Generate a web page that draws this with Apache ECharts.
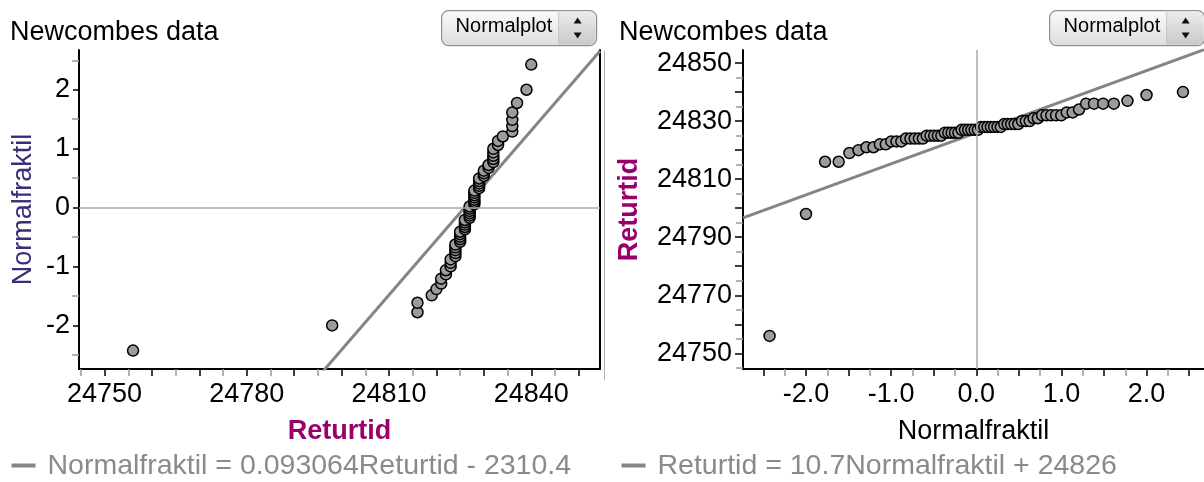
<!DOCTYPE html>
<html>
<head>
<meta charset="utf-8">
<title>Newcombes data – Normalplot</title>
<script src="https://cdn.jsdelivr.net/npm/echarts@6/dist/echarts.min.js"></script>
<style>
  html, body { margin: 0; padding: 0; background: #fff; }
  #chart { width: 1204px; height: 482px; }
</style>
</head>
<body>
<div id="chart"></div>
<script>
// Newcomb's 66 return-time measurements, sorted ascending
const returtid = [
  24756, 24798, 24816, 24816, 24819, 24820, 24821, 24821, 24822, 24822,
  24823, 24823, 24823, 24824, 24824, 24824, 24824, 24824, 24825, 24825,
  24825, 24825, 24825, 24826, 24826, 24826, 24826, 24826, 24827, 24827,
  24827, 24827, 24827, 24827, 24828, 24828, 24828, 24828, 24828, 24828,
  24828, 24829, 24829, 24829, 24829, 24829, 24830, 24830, 24830, 24831,
  24831, 24832, 24832, 24832, 24832, 24832, 24833, 24833, 24834, 24836,
  24836, 24836, 24836, 24837, 24839, 24840
];

// Normal quantiles paired with the sorted measurements
const normalfraktil = [
  -2.428, -2.000, -1.776, -1.616, -1.490, -1.383, -1.290, -1.207, -1.132, -1.063,
  -0.998, -0.937, -0.880, -0.825, -0.773, -0.723, -0.674, -0.627, -0.582, -0.537,
  -0.494, -0.451, -0.410, -0.369, -0.329, -0.289, -0.250, -0.210, -0.172, -0.133,
  -0.095, -0.057, -0.019,  0.019,  0.057,  0.095,  0.133,  0.172,  0.210,  0.250,
   0.289,  0.329,  0.369,  0.410,  0.451,  0.494,  0.537,  0.582,  0.627,  0.674,
   0.723,  0.773,  0.825,  0.880,  0.937,  0.998,  1.063,  1.132,  1.207,  1.290,
   1.383,  1.490,  1.616,  1.776,  2.000,  2.428
];

// Fitted lines shown under each plot
const leftFit = { slope: 0.093064, intercept: -2310.4 };   // Normalfraktil = a*Returtid + b
const rightFit = { slope: 10.7, intercept: 24826 };         // Returtid = a*Normalfraktil + b

// Window ranges
const retRange = [24744.6, 24854.5];
const zRange = [-2.74, 2.675];

// Tick and label positions
const retMajorTicks = [24750, 24760, 24770, 24780, 24790, 24800, 24810, 24820, 24830, 24840, 24850];
const retMinorTicks = [24745, 24755, 24765, 24775, 24785, 24795, 24805, 24815, 24825, 24835, 24845];
const retLabelsLeft = [24750, 24780, 24810, 24840];
const retLabelsRight = [24750, 24770, 24790, 24810, 24830, 24850];
const zIntTicks = [-2, -1, 0, 1, 2];
const zHalfTicks = [-2.5, -1.5, -0.5, 0.5, 1.5, 2.5];
const zLabelsLeft = [-2, -1, 0, 1, 2];
const zMajorTicksRight = [-2.5, -2, -1.5, -1, -0.5, 0, 0.5, 1, 1.5, 2, 2.5];
const zMinorTicksRight = [-2.25, -1.75, -1.25, -0.75, -0.25, 0.25, 0.75, 1.25, 1.75, 2.25];
const zLabelsRight = [-2, -1, 0, 1, 2];

const FONT = '"Liberation Sans", Arial, Helvetica, sans-serif';
const MAGENTA = '#99006b';
const NAVY = '#3b2e78';
const TICK_GRAY = '#9a9a9a';
const FIT_GRAY = '#858585';

const leftPoints = returtid.map((r, i) => [r, normalfraktil[i]]);
const rightPoints = returtid.map((r, i) => [normalfraktil[i], r]);

const leftLine = retRange.map(x => [x, leftFit.slope * x + leftFit.intercept]);
const rightLine = zRange.map(z => [z, rightFit.slope * z + rightFit.intercept]);

const plain = v => String(v);

function mainAxis(extra) {
  return Object.assign({
    type: 'value',
    splitLine: { show: false },
    axisLine: { show: true, onZero: false, lineStyle: { color: '#000', width: 2 } },
    axisTick: { show: true, length: 7, lineStyle: { color: '#000', width: 1.5 } },
    axisLabel: { color: '#000', fontSize: 27, fontFamily: FONT },
    nameLocation: 'middle'
  }, extra);
}
function minorAxis(extra, ticks) {
  return Object.assign({
    type: 'value',
    splitLine: { show: false },
    axisLine: { show: false, onZero: false },
    axisLabel: { show: false },
    axisTick: { show: true, length: 7, customValues: ticks, lineStyle: { color: TICK_GRAY, width: 1.5 } }
  }, extra);
}

function dropdown(x) {
  return {
    type: 'group',
    left: x, top: 10,
    children: [
      {
        type: 'rect',
        shape: { x: 0, y: 0, width: 155, height: 35, r: 7 },
        style: {
          fill: new echarts.graphic.LinearGradient(0, 0, 0, 1, [
            { offset: 0, color: '#fbfbfb' }, { offset: 1, color: '#dcdcdc' }
          ]),
          stroke: '#8f8f8f', lineWidth: 1.2
        }
      },
      {
        type: 'rect',
        shape: { x: 117, y: 1, width: 37, height: 33, r: [0, 6, 6, 0] },
        style: {
          fill: new echarts.graphic.LinearGradient(0, 0, 0, 1, [
            { offset: 0, color: '#ececec' }, { offset: 1, color: '#c9c9c9' }
          ])
        }
      },
      { type: 'line', shape: { x1: 117, y1: 2, x2: 117, y2: 33 }, style: { stroke: '#c4c4c4', lineWidth: 1 } },
      {
        type: 'text',
        x: 14, y: 16,
        style: { text: 'Normalplot', fill: '#000', fontSize: 20, fontFamily: FONT, verticalAlign: 'middle' }
      },
      { type: 'polygon', shape: { points: [[132, 13], [140, 13], [136, 7]] }, style: { fill: '#111' } },
      { type: 'polygon', shape: { points: [[132, 22], [140, 22], [136, 28]] }, style: { fill: '#111' } }
    ]
  };
}

function fitLegend(x, text) {
  return {
    type: 'group',
    left: x, top: 452,
    children: [
      { type: 'line', shape: { x1: 0, y1: 14, x2: 24, y2: 14 }, style: { stroke: FIT_GRAY, lineWidth: 4 } },
      {
        type: 'text', x: 36, y: 15,
        style: { text: text, fill: '#8a8a8a', fontSize: 28.5, fontFamily: FONT, verticalAlign: 'middle' }
      }
    ]
  };
}

const chart = echarts.init(document.getElementById('chart'), null, { renderer: 'canvas' });

chart.setOption({
  animation: false,
  backgroundColor: '#fff',
  grid: [
    { left: 79, top: 50, width: 521, height: 319 },
    { left: 743, top: 50, width: 461, height: 319 }
  ],
  xAxis: [
    mainAxis({
      gridIndex: 0, position: 'bottom', min: retRange[0], max: retRange[1],
      axisTick: { show: true, length: 7, customValues: retMajorTicks, lineStyle: { color: '#000', width: 1.5 } },
      axisLabel: { color: '#000', fontSize: 27, fontFamily: FONT, margin: 12, customValues: retLabelsLeft, formatter: plain },
      name: 'Returtid', nameGap: 49,
      nameTextStyle: { color: MAGENTA, fontWeight: 'bold', fontSize: 27, fontFamily: FONT }
    }),
    minorAxis({ gridIndex: 0, position: 'bottom', min: retRange[0], max: retRange[1] }, retMinorTicks),
    mainAxis({
      gridIndex: 1, position: 'bottom', min: zRange[0], max: zRange[1],
      axisTick: { show: true, length: 7, customValues: zMajorTicksRight, lineStyle: { color: '#000', width: 1.5 } },
      axisLabel: {
        color: '#000', fontSize: 27, fontFamily: FONT, margin: 12, customValues: zLabelsRight,
        formatter: v => v.toFixed(1)
      },
      name: 'Normalfraktil', nameGap: 49,
      nameTextStyle: { color: '#000', fontSize: 27, fontFamily: FONT }
    }),
    minorAxis({ gridIndex: 1, position: 'bottom', min: zRange[0], max: zRange[1] }, zMinorTicksRight)
  ],
  yAxis: [
    mainAxis({
      gridIndex: 0, position: 'left', min: zRange[0], max: zRange[1],
      axisTick: { show: true, length: 6, customValues: zIntTicks, lineStyle: { color: '#000', width: 1.5 } },
      axisLabel: { color: '#000', fontSize: 27, fontFamily: FONT, margin: 9, customValues: zLabelsLeft, formatter: plain },
      name: 'Normalfraktil', nameGap: 42, nameRotate: 90,
      nameTextStyle: { color: NAVY, fontSize: 27, fontFamily: FONT }
    }),
    minorAxis({ gridIndex: 0, position: 'left', min: zRange[0], max: zRange[1] }, zHalfTicks),
    {
      type: 'value', gridIndex: 0, position: 'right', min: zRange[0], max: zRange[1],
      splitLine: { show: false }, axisLabel: { show: false }, axisTick: { show: false },
      axisLine: { show: true, onZero: false, lineStyle: { color: '#000', width: 2 } }
    },
    mainAxis({
      gridIndex: 1, position: 'left', min: retRange[0], max: retRange[1],
      axisTick: { show: true, length: 8, customValues: retMajorTicks, lineStyle: { color: '#000', width: 1.5 } },
      axisLabel: { color: '#000', fontSize: 27, fontFamily: FONT, margin: 11, customValues: retLabelsRight, formatter: plain },
      name: 'Returtid', nameGap: 100, nameRotate: 90,
      nameTextStyle: { color: MAGENTA, fontWeight: 'bold', fontSize: 27, fontFamily: FONT }
    }),
    minorAxis({ gridIndex: 1, position: 'left', min: retRange[0], max: retRange[1] }, retMinorTicks)
  ],
  series: [
    // zero reference lines
    {
      type: 'line', xAxisIndex: 0, yAxisIndex: 0, data: [], z: 1,
      markLine: {
        silent: true, symbol: 'none', animation: false,
        label: { show: false },
        lineStyle: { color: '#a8a8a8', width: 1.5, type: 'solid' },
        data: [{ yAxis: 0 }]
      }
    },
    {
      type: 'line', xAxisIndex: 2, yAxisIndex: 3, data: [], z: 1,
      markLine: {
        silent: true, symbol: 'none', animation: false,
        label: { show: false },
        lineStyle: { color: '#a8a8a8', width: 1.5, type: 'solid' },
        data: [{ xAxis: 0 }]
      }
    },
    // fitted lines
    {
      type: 'line', xAxisIndex: 0, yAxisIndex: 0, data: leftLine, z: 2,
      showSymbol: false, clip: true, silent: true,
      lineStyle: { color: FIT_GRAY, width: 3 }
    },
    {
      type: 'line', xAxisIndex: 2, yAxisIndex: 3, data: rightLine, z: 2,
      showSymbol: false, clip: true, silent: true,
      lineStyle: { color: FIT_GRAY, width: 3 }
    },
    // measurement points
    {
      type: 'scatter', xAxisIndex: 0, yAxisIndex: 0, data: leftPoints, z: 3,
      symbol: 'circle', symbolSize: 11,
      itemStyle: { color: '#9c9c9c', borderColor: '#000', borderWidth: 1.5, opacity: 1 }
    },
    {
      type: 'scatter', xAxisIndex: 2, yAxisIndex: 3, data: rightPoints, z: 3,
      symbol: 'circle', symbolSize: 11,
      itemStyle: { color: '#9c9c9c', borderColor: '#000', borderWidth: 1.5, opacity: 1 }
    }
  ],
  graphic: [
    {
      type: 'text', left: 10, top: 19,
      style: { text: 'Newcombes data', fill: '#000', fontSize: 27, fontFamily: FONT }
    },
    {
      type: 'text', left: 619, top: 19,
      style: { text: 'Newcombes data', fill: '#000', fontSize: 27, fontFamily: FONT }
    },
    dropdown(441),
    dropdown(1049),
    {
      type: 'line', left: 602, top: 48,
      shape: { x1: 0, y1: 0, x2: 0, y2: 330 },
      style: { stroke: '#b0b0b0', lineWidth: 1 }
    },
    fitLegend(9, 'Normalfraktil = 0.093064Returtid - 2310.4'),
    fitLegend(619, 'Returtid = 10.7Normalfraktil + 24826')
  ]
});
</script>
</body>
</html>
